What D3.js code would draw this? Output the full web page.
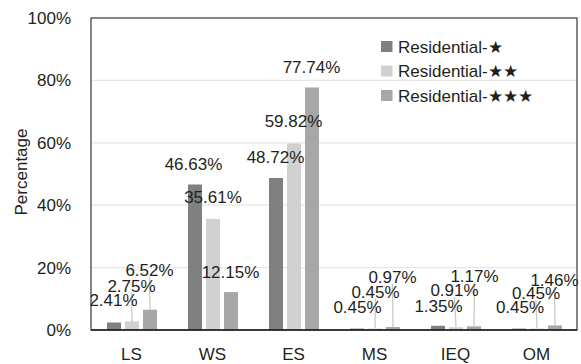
<!DOCTYPE html>
<html>
<head>
<meta charset="utf-8">
<script src="https://cdn.jsdelivr.net/npm/d3@7"></script>
<style>
  html, body { margin: 0; padding: 0; background: #fff; }
  svg { display: block; font-family: "Liberation Sans", Arial, Helvetica, sans-serif; }
</style>
</head>
<body>
<svg id="chart" width="581" height="364"></svg>
<script>
// Share of credits by category for each residential star rating (%)
const categories = ["LS", "WS", "ES", "MS", "IEQ", "OM"];
const seriesNames = ["Residential-★", "Residential-★★", "Residential-★★★"];
const oneStar   = [2.41, 46.63, 48.72, 0.45, 1.35, 0.45];
const twoStar   = [2.75, 35.61, 59.82, 0.45, 0.91, 0.45];
const threeStar = [6.52, 12.15, 77.74, 0.97, 1.17, 1.46];
const yTicks = [0, 20, 40, 60, 80, 100];

const seriesValues = [oneStar, twoStar, threeStar];
const colors = ["#808080", "#d0d1d1", "#a7a7a7"];

// Hand-placed label offsets (px) from each bar's centre/top, and which labels get leader lines
const labelNudge = [
  [[-0.5, -22.5], [-0.5, -36], [-0.5, -40]],
  [[-1.5, -20.5], [0, -22], [-0.5, -20.6]],
  [[-0.5, -21], [-0.5, -22], [-0.5, -21]],
  [[0.5, -22], [0.5, -37], [-0.5, -50]],
  [[0.5, -20.3], [-1.5, -37], [0.5, -50]],
  [[1, -21.6], [-1, -35.6], [-0.5, -45.4]]
];
const hasLeader = [
  [false, true, true],
  [false, false, false],
  [false, false, false],
  [false, true, true],
  [false, true, true],
  [false, true, true]
];

const svg = d3.select("#chart");
const margin = { left: 91, top: 18, right: 4, bottom: 34 };
const W = 581, H = 364;
const x0 = margin.left, x1 = W - margin.right;
const yTop = margin.top, yBot = H - margin.bottom;

const x = d3.scaleBand().domain(categories).range([x0, x1])
  .paddingInner(31 / 81).paddingOuter(31 / 162);
const xs = d3.scaleBand().domain(d3.range(seriesNames.length))
  .range([0, x.bandwidth()]).paddingInner(4 / 18);
const y = d3.scaleLinear().domain([0, 100]).range([yBot, yTop]);

const textColor = "#231f20";

// gridlines
svg.append("g").selectAll("line").data(yTicks.slice(1, -1)).join("line")
  .attr("x1", x0).attr("x2", x1)
  .attr("y1", d => y(d)).attr("y2", d => y(d))
  .attr("stroke", "#e6e6e6").attr("stroke-width", 1.3);

// y-axis tick labels
const yAxis = d3.axisLeft(y).tickValues(yTicks).tickFormat(d => d + "%").tickSize(0).tickPadding(20);
const gy = svg.append("g").attr("transform", `translate(${x0},0)`).call(yAxis);
gy.select(".domain").remove();
gy.selectAll("text").attr("font-size", 17).attr("fill", textColor)
  .attr("font-family", "Liberation Sans, Arial, sans-serif");

// x-axis category labels
const xAxis = d3.axisBottom(x).tickSize(0).tickPadding(18);
const gx = svg.append("g").attr("transform", `translate(0,${yBot})`).call(xAxis);
gx.select(".domain").remove();
gx.selectAll("text").attr("font-size", 17).attr("fill", textColor)
  .attr("font-family", "Liberation Sans, Arial, sans-serif");

// bars
const flat = [];
categories.forEach((c, ci) => {
  seriesValues.forEach((vals, si) => {
    flat.push({ c, ci, si, v: vals[ci] });
  });
});
const bx = d => x(d.c) + xs(d.si) + 0.5;
svg.append("g").selectAll("rect").data(flat).join("rect")
  .attr("x", d => bx(d))
  .attr("y", d => y(d.v))
  .attr("width", xs.bandwidth())
  .attr("height", d => y(0) - y(d.v))
  .attr("fill", d => colors[d.si]);

// leader lines
const lx = d => bx(d) + xs.bandwidth() / 2 + labelNudge[d.ci][d.si][0];
const ly = d => y(d.v) + labelNudge[d.ci][d.si][1];
svg.append("g").selectAll("line").data(flat.filter(d => hasLeader[d.ci][d.si])).join("line")
  .attr("x1", d => lx(d)).attr("y1", d => ly(d) + 7)
  .attr("x2", d => bx(d) + xs.bandwidth() / 2).attr("y2", d => y(d.v))
  .attr("stroke", "#c9c9c9").attr("stroke-width", 1.3);

// value labels
svg.append("g").selectAll("text").data(flat).join("text")
  .attr("x", d => lx(d))
  .attr("y", d => ly(d))
  .attr("dy", "0.36em")
  .attr("text-anchor", "middle")
  .attr("font-size", 17)
  .attr("fill", textColor)
  .text(d => d.v.toFixed(2) + "%");

// plot frame
svg.append("rect")
  .attr("x", x0).attr("y", yTop)
  .attr("width", x1 - x0).attr("height", yBot - yTop)
  .attr("fill", "none").attr("stroke", "#3a3536").attr("stroke-width", 1.2);
svg.append("line")
  .attr("x1", x0).attr("x2", x1).attr("y1", yBot).attr("y2", yBot)
  .attr("stroke", "#231f20").attr("stroke-width", 1.6);

// y-axis title
svg.append("text")
  .attr("transform", `translate(27,172) rotate(-90)`)
  .attr("text-anchor", "middle")
  .attr("font-size", 17)
  .attr("fill", textColor)
  .text("Percentage");

// legend
const legend = svg.append("g").attr("transform", "translate(381,41)");
const rows = legend.selectAll("g").data(seriesNames).join("g")
  .attr("transform", (d, i) => `translate(0,${i * 24.5})`);
rows.append("rect").attr("width", 11.5).attr("height", 11)
  .attr("fill", (d, i) => colors[i]);
rows.append("text").attr("x", 17).attr("y", 5.5).attr("dy", "0.36em")
  .attr("font-size", 17).attr("fill", textColor).text(d => d);
</script>
</body>
</html>
